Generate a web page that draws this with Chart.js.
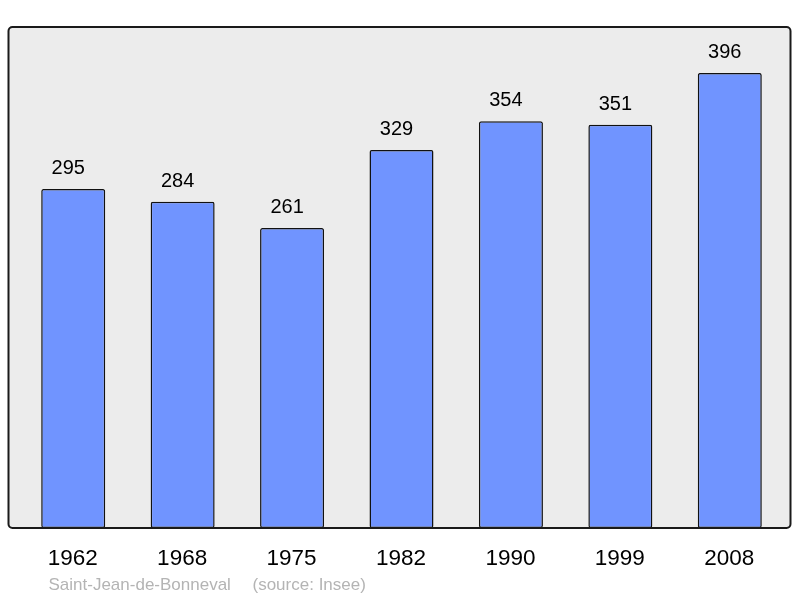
<!DOCTYPE html>
<html>
<head>
<meta charset="utf-8">
<script src="https://cdn.jsdelivr.net/npm/chart.js@4.4.1/dist/chart.umd.min.js"></script>
<style>
  html, body { margin: 0; padding: 0; background: #fff; }
  #wrap { width: 800px; height: 598px; }
</style>
</head>
<body>
<div id="wrap"><canvas id="pop"></canvas></div>
<script>
const years = ['1962', '1968', '1975', '1982', '1990', '1999', '2008'];
const population = [295, 284, 261, 329, 354, 351, 396];
const placeName = 'Saint-Jean-de-Bonneval';
const sourceNote = '(source: Insee)';

// frame + background behind the bars, and the texts on top
const framePlugin = {
    id: 'frame',
    beforeDatasetsDraw(chart) {
        const { ctx, chartArea } = chart;
        const x0 = chartArea.left - 10, x1 = chartArea.right + 6;
        ctx.save();
        ctx.beginPath();
        ctx.roundRect(x0, chartArea.top, x1 - x0, chartArea.bottom - chartArea.top, 4);
        ctx.fillStyle = '#ececec';
        ctx.fill();
        ctx.restore();
    },
    afterDatasetsDraw(chart) {
        const { ctx, chartArea } = chart;
        const x0 = chartArea.left - 10, x1 = chartArea.right + 6;
        ctx.save();
        ctx.beginPath();
        ctx.roundRect(x0, chartArea.top, x1 - x0, chartArea.bottom - chartArea.top, 4);
        ctx.lineWidth = 2;
        ctx.strokeStyle = '#1a1a1a';
        ctx.stroke();

        const meta = chart.getDatasetMeta(0);
        const xScale = chart.scales.x;
        ctx.textAlign = 'center';
        ctx.textBaseline = 'alphabetic';
        ctx.fillStyle = '#000';
        ctx.font = '20px "Liberation Sans", Arial, sans-serif';
        meta.data.forEach((bar, i) => {
            // value labels sit a little left of the bar centre in the original
            ctx.fillText(String(population[i]), bar.x - 5, bar.y - 15);
        });
        ctx.font = '22.5px "Liberation Sans", Arial, sans-serif';
        years.forEach((y, i) => {
            ctx.fillText(y, xScale.getPixelForValue(i) - 0.5, chartArea.bottom + 37);
        });

        ctx.textAlign = 'left';
        ctx.fillStyle = '#b4b4b4';
        ctx.font = '17px "Liberation Sans", Arial, sans-serif';
        ctx.fillText(placeName, chartArea.left + 30, chartArea.bottom + 62);
        ctx.fillText(sourceNote, chartArea.left + 234, chartArea.bottom + 62);
        ctx.restore();
    }
};

new Chart(document.getElementById('pop'), {
    type: 'bar',
    data: {
        labels: years,
        datasets: [{
            data: population,
            backgroundColor: '#7094ff',
            borderColor: '#111',
            borderWidth: 1.5,
            borderRadius: 2,
            borderSkipped: false,
            barPercentage: 0.585,
            categoryPercentage: 1
        }]
    },
    options: {
        responsive: true,
        maintainAspectRatio: false,
        animation: false,
        layout: { padding: { top: 27, bottom: 70, left: 18.5, right: 15.5 } },
        plugins: {
            legend: { display: false },
            tooltip: { enabled: false }
        },
        scales: {
            x: { display: false, offset: true },
            y: { display: false, min: 0, max: 436 }
        }
    },
    plugins: [framePlugin]
});
</script>
</body>
</html>
